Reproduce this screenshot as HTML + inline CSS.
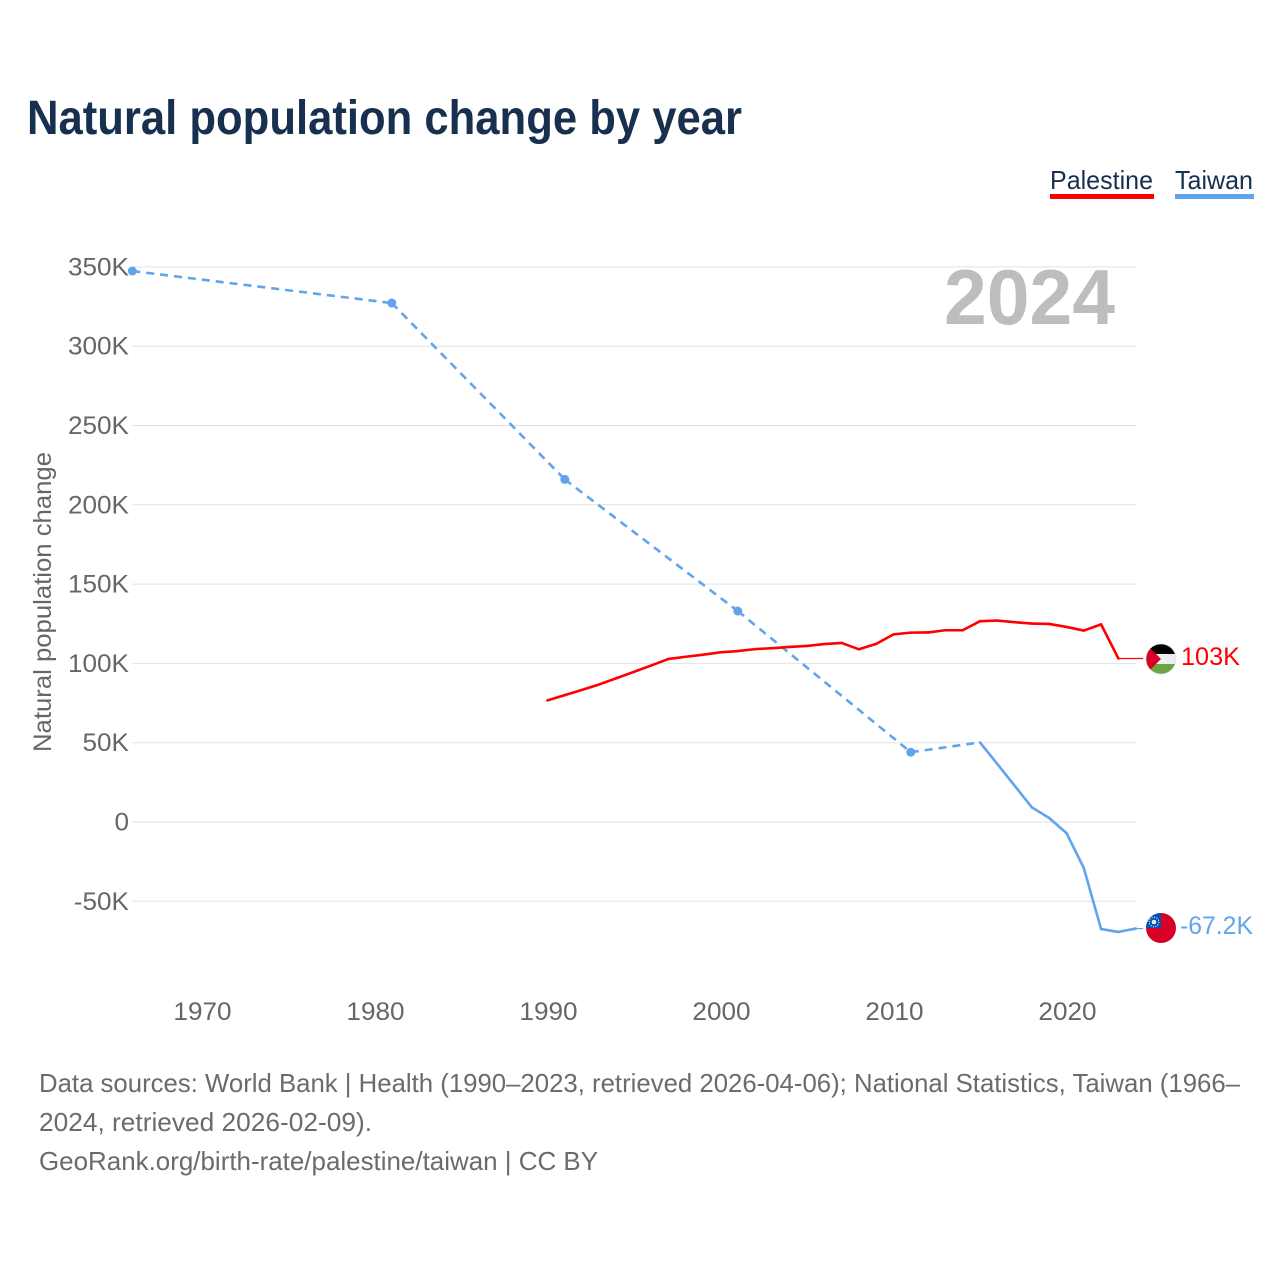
<!DOCTYPE html>
<html lang="en">
<head>
<meta charset="utf-8">
<title>Natural population change by year</title>
<style>
  html, body { margin: 0; padding: 0; background: #fff; }
  svg { display: block; font-family: "Liberation Sans", sans-serif; }
  .tick { font-size: 25px; fill: #666; }
  .foot { font-size: 26px; fill: #6b6b6b; }
</style>
</head>
<body>
<svg id="chart" xmlns="http://www.w3.org/2000/svg" width="1280" height="1280" viewBox="0 0 1280 1280">
  <defs>
    <clipPath id="flag-clip-pal"><circle cx="1161" cy="659" r="15"/></clipPath>
    <clipPath id="flag-clip-twn"><circle cx="1161" cy="928" r="15"/></clipPath>
  </defs>
  <rect width="1280" height="1280" fill="#fff"/>
  <text x="27" y="134" font-size="48" font-weight="700" fill="#18304f" textLength="715" lengthAdjust="spacingAndGlyphs">Natural population change by year</text>

  <g>
    <text x="1050" y="189" font-size="26" fill="#18304f" textLength="103" lengthAdjust="spacingAndGlyphs">Palestine</text>
    <rect x="1050" y="194" width="104" height="5" fill="#ff0000"/>
  </g>
  <g>
    <text x="1175" y="189" font-size="26" fill="#18304f" textLength="78" lengthAdjust="spacingAndGlyphs">Taiwan</text>
    <rect x="1175" y="194" width="79" height="5" fill="#60a5ec"/>
  </g>

  <g id="grid"></g>
  <g id="y-ticks"></g>
  <g id="x-ticks"></g>

  <text x="944" y="324" font-size="78" font-weight="700" fill="#bdbdbd" textLength="171" lengthAdjust="spacingAndGlyphs">2024</text>

  <text transform="translate(51 752) rotate(-90)" font-size="25" fill="#666" textLength="300" lengthAdjust="spacingAndGlyphs">Natural population change</text>

  <g id="series"></g>

  <g>
    <g clip-path="url(#flag-clip-pal)">
      <rect x="1146" y="644" width="30" height="10" fill="#000"/>
      <rect x="1146" y="654" width="30" height="10" fill="#eee"/>
      <rect x="1146" y="664" width="30" height="10" fill="#6da544"/>
      <polygon points="1146,644 1146,674 1161,659" fill="#d80027"/>
    </g>
    <circle cx="1161" cy="659" r="15" fill="none" stroke="#ddd" stroke-width="0.5"/>
  </g>
  <g>
    <g clip-path="url(#flag-clip-twn)">
      <rect x="1146" y="913" width="30" height="30" fill="#d80027"/>
      <rect x="1146" y="913" width="15" height="15" fill="#0052b4"/>
      <circle cx="1154" cy="922" r="4.8" fill="none" stroke="#eee" stroke-width="1.1" stroke-dasharray="1.2 1.3"/>
      <circle cx="1154" cy="922" r="2.3" fill="#eee"/>
    </g>
  </g>
  <text x="1181" y="665" font-size="25" fill="#ff0000" textLength="59" lengthAdjust="spacingAndGlyphs">103K</text>
  <text x="1180" y="934" font-size="25" fill="#60a5ec" textLength="73" lengthAdjust="spacingAndGlyphs">-67.2K</text>

  <g>
    <text class="foot" x="39" y="1092" textLength="1201" lengthAdjust="spacingAndGlyphs">Data sources: World Bank | Health (1990–2023, retrieved 2026-04-06); National Statistics, Taiwan (1966–</text>
    <text class="foot" x="39" y="1131" textLength="333" lengthAdjust="spacingAndGlyphs">2024, retrieved 2026-02-09).</text>
    <text class="foot" x="39" y="1170" textLength="559" lengthAdjust="spacingAndGlyphs">GeoRank.org/birth-rate/palestine/taiwan | CC BY</text>
  </g>
</svg>
<script>
// Chart data (population change in thousands)
const yTickValues = [350, 300, 250, 200, 150, 100, 50, 0, -50];
const yTickLabels = ['350K', '300K', '250K', '200K', '150K', '100K', '50K', '0', '-50K'];
const xTickYears = [1970, 1980, 1990, 2000, 2010, 2020];
const palestineYears = [1990, 1991, 1992, 1993, 1994, 1995, 1996, 1997, 1998, 1999, 2000, 2001, 2002, 2003, 2004, 2005, 2006, 2007, 2008, 2009, 2010, 2011, 2012, 2013, 2014, 2015, 2016, 2017, 2018, 2019, 2020, 2021, 2022, 2023];
const palestineValues = [76.7, 80, 83.3, 86.8, 90.7, 94.7, 98.7, 102.8, 104.2, 105.5, 107, 107.8, 109, 109.6, 110.4, 111, 112.2, 112.9, 108.9, 112.3, 118.3, 119.4, 119.5, 120.9, 120.9, 126.6, 127, 126, 125.1, 124.9, 123, 120.7, 124.6, 103.1];
const taiwanYears = [1966, 1981, 1991, 2001, 2011, 2015, 2016, 2017, 2018, 2019, 2020, 2021, 2022, 2023, 2024];
const taiwanValues = [347.4, 327.2, 216, 133, 44, 50.2, 36.6, 22.9, 9.2, 2.5, -7, -29, -67.5, -69.3, -67.2];

const SVG_NS = 'http://www.w3.org/2000/svg';
const TEXT_STRETCH = 1.045;
const xScale = function (year) { return 132.3 + (year - 1966) * 17.3; };
const yScale = function (value) { return 822 - value * 1.586; };
const grid = document.getElementById('grid');
const yTicks = document.getElementById('y-ticks');
const xTicks = document.getElementById('x-ticks');
const series = document.getElementById('series');

function stretchLabel(label) {
  label.setAttribute('textLength', label.getComputedTextLength() * TEXT_STRETCH);
  label.setAttribute('lengthAdjust', 'spacingAndGlyphs');
}

yTickValues.forEach(function (value, i) {
  const y = yScale(value);
  const line = document.createElementNS(SVG_NS, 'line');
  
  
  line.setAttribute('x1', 132);
  line.setAttribute('x2', 1136);
  line.setAttribute('y1', y);
  line.setAttribute('y2', y);
  line.setAttribute('stroke', '#e2e2e2');
  line.setAttribute('stroke-width', 1);
  grid.appendChild(line);

  const label = document.createElementNS(SVG_NS, 'text');
  
  
  label.setAttribute('class', 'tick');
  label.setAttribute('x', 129);
  label.setAttribute('y', yScale(value) + 8.5);
  label.setAttribute('text-anchor', 'end');
  label.textContent = yTickLabels[i];
  yTicks.appendChild(label);
  stretchLabel(label);
});

xTickYears.forEach(function (year) {
  const label = document.createElementNS(SVG_NS, 'text');
  
  
  label.setAttribute('class', 'tick');
  label.setAttribute('x', xScale(year) + 1);
  label.setAttribute('y', 1020);
  label.setAttribute('text-anchor', 'middle');
  label.textContent = year;
  xTicks.appendChild(label);
  stretchLabel(label);
});

function drawSeries(years, values, color, seriesName) {
  const lastX = xScale(years[years.length - 1]);
  const lastY = yScale(values[values.length - 1]);
  const leader = document.createElementNS(SVG_NS, 'line');
  
  
  leader.setAttribute('x1', lastX);
  leader.setAttribute('y1', lastY);
  leader.setAttribute('x2', 1143);
  leader.setAttribute('y2', lastY);
  leader.setAttribute('stroke', color);
  leader.setAttribute('stroke-width', 1.2);
  series.appendChild(leader);

  for (let i = 0; i < years.length - 1; i++) {
    const dashed = years[i + 1] - years[i] > 1;
    const seg = document.createElementNS(SVG_NS, 'line');
    
    
    seg.setAttribute('x1', xScale(years[i]));
    seg.setAttribute('y1', yScale(values[i]));
    seg.setAttribute('x2', xScale(years[i + 1]));
    seg.setAttribute('y2', yScale(values[i + 1]));
    seg.setAttribute('stroke', color);
    seg.setAttribute('stroke-width', 2.6);
    seg.setAttribute('stroke-linecap', dashed ? 'butt' : 'round');
    if (dashed) seg.setAttribute('stroke-dasharray', '8 6');
    series.appendChild(seg);

    if (dashed) {
      const dot = document.createElementNS(SVG_NS, 'circle');
      
      
      dot.setAttribute('cx', xScale(years[i]));
      dot.setAttribute('cy', yScale(values[i]));
      dot.setAttribute('r', 4.5);
      dot.setAttribute('fill', color);
      series.appendChild(dot);
    }
  }
}

drawSeries(taiwanYears, taiwanValues, '#60a5ec', 'taiwan');
drawSeries(palestineYears, palestineValues, '#ff0000', 'palestine');
</script>
</body>
</html>
